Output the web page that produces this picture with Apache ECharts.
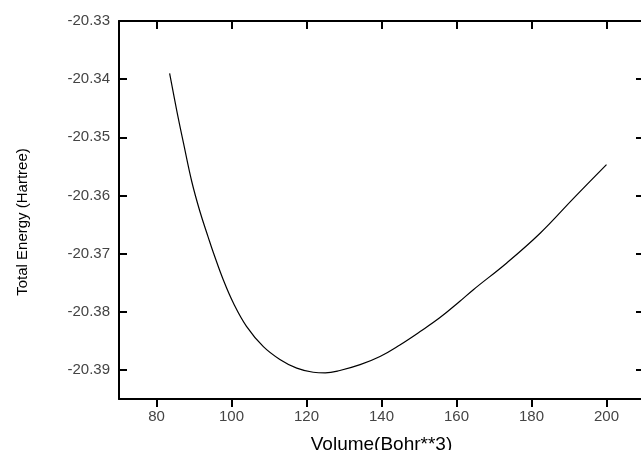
<!DOCTYPE html>
<html>
<head>
<meta charset="utf-8">
<script src="https://cdn.jsdelivr.net/npm/echarts@6/dist/echarts.min.js"></script>
<style>
  html, body { margin: 0; padding: 0; background: #fff; }
  #chart { width: 641px; height: 450px; }
</style>
</head>
<body>
<div id="chart"></div>
<script>
// volume (Bohr**3) vs total energy (Hartree)
const volume = [83.5, 85.4, 87.2, 89.4, 91.6, 93.8, 95.2, 97.8, 100.5, 104.0, 108.5, 112.9, 117.4,
                121.8, 125.0, 128.9, 134.3, 139.6, 144.9, 150.3, 155.6, 160.9, 164.5, 173.4, 182.3, 191.2, 200.0];
const energy = [-20.3390, -20.3454, -20.3510, -20.3576, -20.3628, -20.3672, -20.3699, -20.3745, -20.3785,
                -20.3825, -20.3860, -20.3882, -20.3897, -20.3904, -20.3905, -20.3901, -20.3891, -20.3877,
                -20.3857, -20.3834, -20.3810, -20.3782, -20.3762, -20.3716, -20.3665, -20.3605, -20.3547];

const xRange = [70, 210];
const xTickValues = [80, 100, 120, 140, 160, 180, 200];
const yRange = [-20.395, -20.33];
const yTickValues = [-20.39, -20.38, -20.37, -20.36, -20.35, -20.34, -20.33];

const font = 'Arial, "Liberation Sans", sans-serif';
const lineStyle = {color: '#000', width: 2};
const tick = {show: true, length: 8, lineStyle: {color: '#000', width: 2}};

const chart = echarts.init(document.getElementById('chart'), null, {renderer: 'canvas'});

chart.setOption({
    animation: false,
    backgroundColor: '#fff',
    grid: {left: 119, top: 21, right: -3, bottom: 51, containLabel: false, outerBoundsMode: 'none'},
    xAxis: [
        {
            type: 'value',
            position: 'bottom',
            min: xRange[0], max: xRange[1],
            name: 'Volume(Bohr**3)',
            nameLocation: 'middle',
            nameGap: 36,
            nameTextStyle: {fontFamily: font, fontSize: 19, color: '#000'},
            axisLine: {show: true, lineStyle: lineStyle},
            axisTick: Object.assign({inside: false, customValues: xTickValues}, tick),
            axisLabel: {
                margin: 10, fontFamily: font, fontSize: 15, color: '#444',
                customValues: xTickValues
            },
            splitLine: {show: false}
        },
        {
            type: 'value',
            position: 'top',
            min: xRange[0], max: xRange[1],
            axisLine: {show: true, lineStyle: lineStyle},
            axisTick: Object.assign({inside: true, customValues: xTickValues}, tick),
            axisLabel: {show: false},
            splitLine: {show: false}
        }
    ],
    yAxis: [
        {
            type: 'value',
            position: 'left',
            min: yRange[0], max: yRange[1],
            name: 'Total Energy (Hartree)',
            nameLocation: 'middle',
            nameGap: 89,
            nameTextStyle: {fontFamily: font, fontSize: 15, color: '#000', padding: [0, 24, 0, 0]},
            axisLine: {show: true, lineStyle: lineStyle},
            axisTick: Object.assign({inside: true, customValues: yTickValues}, tick),
            axisLabel: {
                margin: 9, fontFamily: font, fontSize: 15, color: '#444',
                customValues: yTickValues,
                formatter: v => v.toFixed(2)
            },
            splitLine: {show: false}
        },
        {
            type: 'value',
            position: 'right',
            min: yRange[0], max: yRange[1],
            axisLine: {show: true, lineStyle: lineStyle},
            axisTick: Object.assign({inside: true, customValues: yTickValues}, tick),
            axisLabel: {show: false},
            splitLine: {show: false}
        }
    ],
    series: [
        {
            type: 'line',
            xAxisIndex: 0,
            yAxisIndex: 0,
            data: volume.map((v, i) => [v, energy[i]]),
            showSymbol: false,
            smooth: 0.4,
            lineStyle: {color: '#000', width: 1.2}
        }
    ]
});
</script>
</body>
</html>
